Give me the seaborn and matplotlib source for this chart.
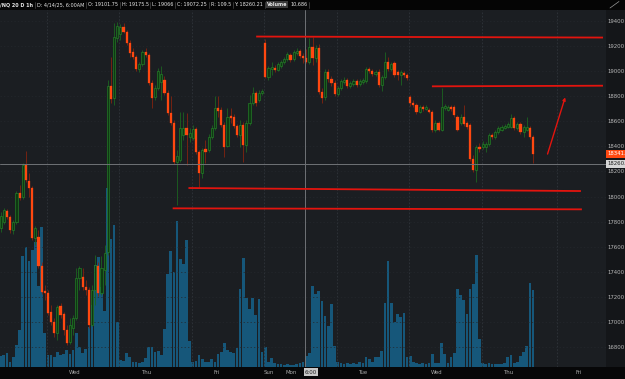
import matplotlib
matplotlib.use("Agg")
import matplotlib.pyplot as plt
import matplotlib.transforms as mtransforms
from matplotlib.patches import Rectangle
from matplotlib.lines import Line2D
import numpy as np
import pandas as pd
import seaborn as sns

# ---------------- data (hourly /NQ bars) ----------------
opens = [
    17749, 17797, 17885, 17837, 17733, 17797, 18028, 17996, 18252, 18124,
    18068, 17669, 17677, 17446, 17247, 17231, 17079, 16999, 16912, 17127,
    17063, 16936, 16840, 16952, 17031, 17350, 17358, 17279, 17255, 16976,
    17255, 17446, 17231, 17414, 17558, 18882, 18786, 19264, 19296, 19352,
    19312, 19225, 19153, 19113, 19017, 19057, 19153, 19129, 18906, 18794,
    18866, 18914, 18930, 18826, 18666, 18587, 18276, 18291, 18491, 18547,
    18475, 18467, 18539, 18355, 18188, 18379, 18371, 18475, 18547, 18706,
    18690, 18571, 18403, 18642, 18634, 18563, 18491, 18571, 18411, 18587,
    18746, 18826, 18770, 18826, 19225, 18953, 19017, 19025, 19009, 19041,
    19073, 19097, 19129, 19097, 19145, 19161, 19121, 19101.75, 19073, 19193,
    19105, 19185, 18834, 18794, 18993, 18937, 18906, 18818, 18866, 18914,
    18930, 18882, 18898, 18922, 18898, 18914, 18922, 19017, 19001, 18977,
    18993, 18890, 18953, 19073, 19017, 19065, 18993, 18969, 18985, 18969,
    18794, 18746, 18730, 18674, 18714, 18698, 18690, 18674, 18531, 18587,
    18531, 18706, 18690, 18714, 18714, 18634, 18587, 18634, 18587, 18571,
    18299, 18212, 18395, 18395, 18395, 18419, 18491, 18475, 18515, 18531,
    18547, 18555, 18555, 18626, 18547, 18579, 18515, 18531, 18547, 18475,
]
highs = [
    17877, 17909, 17901, 17853, 17813, 18044, 18092, 18268, 18363, 18188,
    18084, 17765, 17733, 17478, 17295, 17255, 17135, 17031, 17135, 17151,
    17079, 16976, 17031, 17055, 17430, 17446, 17430, 17334, 17279, 17295,
    17534, 17478, 17526, 17614, 18930, 19113, 19384, 19392, 19376, 19384,
    19328, 19248, 19185, 19129, 19073, 19169, 19185, 19145, 18930, 18890,
    19025, 19041, 18961, 18850, 18802, 18610, 18371, 18674, 18674, 18666,
    18547, 18571, 18555, 18371, 18387, 18451, 18499, 18571, 18802, 18802,
    18714, 18594, 18706, 18706, 18658, 18579, 18610, 18594, 18610, 18810,
    18874, 18842, 18850, 18858, 19256, 19041, 19073, 19049, 19073, 19089,
    19113, 19153, 19145, 19169, 19185, 19177, 19145, 19175.5, 19264, 19272,
    19209, 19217, 18866, 19017, 19017, 18961, 18930, 18882, 18937, 18953,
    18945, 18922, 18937, 18937, 18937, 18945, 19033, 19033, 19017, 19009,
    19017, 18969, 19153, 19113, 19073, 19081, 19009, 19009, 19001, 18985,
    18810, 18770, 18746, 18730, 18730, 18730, 18706, 18690, 18610, 18602,
    18866, 18738, 18730, 18730, 18730, 18650, 18658, 18730, 18602, 18587,
    18331, 18411, 18427, 18443, 18435, 18507, 18507, 18531, 18563, 18571,
    18579, 18594, 18658, 18642, 18594, 18594, 18571, 18634, 18563, 18491,
]
lows = [
    17717, 17781, 17821, 17709, 17701, 17781, 17972, 17980, 18116, 17996,
    17653, 17614, 17430, 17223, 17175, 17055, 16976, 16880, 16856, 17031,
    16896, 16816, 16824, 16896, 17015, 17255, 17255, 17215, 16952, 16968,
    17135, 17207, 17215, 17295, 17534, 18746, 18730, 19233, 19248, 19304,
    19209, 19113, 19097, 19001, 18993, 19041, 19113, 18890, 18706, 18770,
    18850, 18770, 18810, 18650, 18571, 18260, 17933, 18276, 18451, 18252,
    18435, 18451, 18339, 18076, 18148, 18268, 18355, 18459, 18531, 18634,
    18555, 18315, 18395, 18587, 18547, 18475, 18395, 18276, 18355, 18571,
    18730, 18722, 18754, 18810, 18945, 18930, 18969, 18993, 19001, 19025,
    19057, 19081, 19073, 19081, 19129, 19105, 19065, 19066, 19057, 19049,
    19073, 18818, 18746, 18770, 18914, 18882, 18802, 18802, 18850, 18898,
    18866, 18866, 18882, 18874, 18882, 18898, 18906, 18985, 18961, 18961,
    18874, 18842, 18937, 19001, 19001, 18953, 18930, 18890, 18953, 18930,
    18722, 18714, 18658, 18666, 18682, 18690, 18666, 18515, 18515, 18523,
    18523, 18690, 18682, 18682, 18634, 18523, 18571, 18563, 18539, 18284,
    18196, 18116, 18355, 18379, 18355, 18403, 18459, 18459, 18499, 18523,
    18539, 18547, 18547, 18531, 18531, 18499, 18475, 18523, 18459, 18268,
]
closes = [
    17845, 17893, 17837, 17733, 17797, 18028, 17988, 18252, 18132, 18068,
    17669, 17749, 17446, 17239, 17231, 17071, 16999, 16912, 17119, 17055,
    16936, 16832, 16976, 17031, 17350, 17430, 17279, 17255, 16976, 17255,
    17454, 17231, 17430, 17550, 18882, 18778, 19272, 19360, 19352, 19312,
    19225, 19145, 19113, 19017, 19057, 19153, 19129, 18906, 18786, 18866,
    19001, 18977, 18826, 18666, 18587, 18276, 18323, 18547, 18547, 18491,
    18507, 18539, 18355, 18188, 18371, 18355, 18475, 18547, 18706, 18682,
    18571, 18395, 18634, 18626, 18563, 18491, 18571, 18411, 18587, 18746,
    18826, 18746, 18826, 18842, 18953, 19025, 19033, 19009, 19057, 19073,
    19097, 19137, 19089, 19153, 19161, 19121, 19105, 19072.25, 19193, 19105,
    19185, 18834, 18786, 18993, 18937, 18906, 18818, 18866, 18922, 18930,
    18882, 18906, 18922, 18890, 18922, 18930, 19017, 19001, 18977, 18993,
    18890, 18953, 19073, 19017, 19057, 18969, 18969, 18993, 18969, 18945,
    18746, 18730, 18674, 18714, 18698, 18714, 18674, 18531, 18587, 18531,
    18714, 18722, 18714, 18698, 18650, 18531, 18634, 18579, 18555, 18299,
    18212, 18395, 18379, 18419, 18419, 18491, 18475, 18515, 18547, 18555,
    18563, 18579, 18626, 18547, 18579, 18515, 18555, 18555, 18475, 18341,
]
volumes = [
    11000, 12000, 14000, 5000, 10000, 22000, 37000, 111000, 120000, 106000,
    117000, 125000, 81000, 140000, 34000, 12000, 12000, 10000, 15000, 12000,
    13000, 17000, 13000, 17000, 34000, 20000, 14000, 18000, 40000, 62000,
    102000, 110000, 80000, 56000, 179000, 128000, 142000, 45000, 7000, 6000,
    14000, 10000, 5000, 5000, 4000, 5000, 9000, 20000, 20000, 15000,
    16000, 12000, 38000, 93000, 116000, 95000, 146000, 108000, 103000, 127000,
    26000, 5000, 6000, 12000, 8000, 5000, 5000, 8000, 5000, 13000,
    15000, 24000, 17000, 15000, 14000, 19000, 78000, 109000, 69000, 58000,
    69000, 52000, 68000, 15000, 20000, 5000, 9000, 4000, 3000, 3000,
    2000, 3000, 2000, 2000, 3000, 4000, 5000, 10686, 14000, 81000,
    73000, 76000, 66000, 51000, 41000, 63000, 21000, 5000, 4000, 3000,
    4000, 3000, 4000, 3000, 5000, 4000, 10000, 8000, 5000, 10000,
    10000, 16000, 64000, 106000, 64000, 45000, 53000, 50000, 54000, 10000,
    11000, 5000, 4000, 3000, 4000, 3000, 4000, 13000, 4000, 4000,
    24000, 13000, 4000, 10000, 14000, 78000, 72000, 67000, 53000, 78000,
    83000, 112000, 28000, 4000, 3000, 4000, 3000, 3000, 3000, 3000,
    4000, 10000, 12000, 4000, 5000, 11000, 15000, 21000, 84000, 77000,
]

day_labels = ["Wed", "Thu", "Fri", "Sun", "Mon", "Tue", "Wed", "Thu", "Fri"]
day_start_bars = [22, 45, 68, 84, 91, 114, 137, 160, 183]
price_ticks = list(range(16800, 19401, 200))

crosshair_bar = 97
crosshair_label = "6:00"
crosshair_price = 18260.21
last_price = 18341

header_fields = ["/NQ 20 D 1h", "D: 4/14/25, 6:00AM", "O: 19101.75", "H: 19175.5",
                 "L: 19066", "C: 19072.25", "R: 109.5", "Y: 18260.21", "Volume", "10,686"]

# hand-drawn trend lines: ((bar, price), (bar, price))
trend_lines = [
    ((81.1, 19276), (191.2, 19268)),
    ((136.9, 18879), (191.2, 18884)),
    ((59.6, 18068), (184.2, 18044)),
    ((54.6, 17906), (184.5, 17898)),
]
trend_arrow = ((173.6, 18339), (179.2, 18791))

# ---------------- layout ----------------
W, H = 625, 379
PL, PR, PT, PB = 0.0, 606.0, 9.5, 367.0          # plot box in pixels
XMIN, XMAX = -0.22, 192.16                        # bar index range shown
YMIN, YMAX = 16640.7, 19491.7                     # price range shown
VOL_TOP = 357500

BG = '#1b1e22'
STRIP = '#141619'
TXT = '#b9b9b9'
FS = 3.9
HFS = 3.55

sns.set_theme(style="dark")
plt.rcParams['font.family'] = ['DejaVu Sans']

fig = plt.figure(figsize=(W / 100, H / 100), dpi=100)
fig.patch.set_facecolor('#070708')
rect = [PL / W, 1 - PB / H, (PR - PL) / W, (PB - PT) / H]

# right price-axis strip
fig.add_artist(Rectangle((PR / W, 1 - PB / H), (W - PR) / W, (PB - PT) / H,
                         transform=fig.transFigure, facecolor=STRIP, edgecolor='none', zorder=0))

bars = np.arange(len(opens))
o = np.array(opens, float); h = np.array(highs, float)
l = np.array(lows, float); c = np.array(closes, float)
h = np.maximum(h, np.maximum(o, c)); l = np.minimum(l, np.minimum(o, c))

# ---- volume axes (behind) ----
axv = fig.add_axes(rect)
axv.set_facecolor(BG)
vdf = pd.DataFrame({"bar": bars, "volume": volumes})
sns.barplot(data=vdf, x="bar", y="volume", native_scale=True, width=0.86,
            color='#16577a', saturation=1, linewidth=0, errorbar=None, ax=axv)
axv.set_xlim(XMIN, XMAX)
axv.set_ylim(0, VOL_TOP)
axv.set_xticks([]); axv.set_yticks([])
axv.set_xlabel(''); axv.set_ylabel('')
for s in axv.spines.values():
    s.set_visible(False)

# ---- price axes ----
ax = fig.add_axes(rect)
ax.set_facecolor('none')
ax.set_xlim(XMIN, XMAX)
ax.set_ylim(YMIN, YMAX)
for s in ax.spines.values():
    s.set_visible(False)

# grid
grid_bars = [14.6, 37.65, 60.6, 83.7, 106.7, 129.7, 152.7, 176.7]
for gx in grid_bars:
    ax.axvline(gx, color='#30343a', lw=0.6, ls=(0, (2, 2)), zorder=0.5)
for p in price_ticks:
    ax.axhline(p, color='#24282d', lw=0.5, ls=(0, (2, 3)), zorder=0.5)

up = c >= o
body_lo = np.minimum(o, c)
body_h = np.maximum(np.abs(c - o), 6)
ax.vlines(bars[up], l[up], h[up], color='#1c6420', lw=0.6, zorder=2)
ax.vlines(bars[~up], l[~up], h[~up], color='#84230f', lw=0.6, zorder=2)
ax.bar(bars[up], body_h[up], bottom=body_lo[up], width=0.68, color='#0e3912',
       edgecolor='#268a2a', linewidth=0.42, zorder=3)
ax.bar(bars[~up], body_h[~up], bottom=body_lo[~up], width=0.68, color='#ff4810',
       edgecolor='#ff4810', linewidth=0.2, zorder=3)

# crosshair
ax.axvline(crosshair_bar - 0.3, color='#6f7276', lw=0.7, zorder=4)
ax.axhline(crosshair_price, color='#6f7276', lw=0.7, zorder=4)

# trend lines
for (x0, y0), (x1, y1) in trend_lines:
    ax.plot([x0, x1], [y0, y1], color='#e3140e', lw=1.3, solid_capstyle='butt', zorder=5)
ax.annotate('', xy=trend_arrow[1], xytext=trend_arrow[0],
            arrowprops=dict(arrowstyle='-|>', color='#e3140e', lw=1.0,
                            mutation_scale=4, shrinkA=0, shrinkB=0), zorder=5)

# right price labels
ax.yaxis.tick_right()
ax.set_yticks(price_ticks)
ax.set_yticklabels([str(p) for p in price_ticks])
ax.tick_params(axis='y', length=0, pad=1.1, labelsize=FS, labelcolor=TXT)
ax.set_xticks([])

ytr = mtransforms.blended_transform_factory(ax.transAxes, ax.transData)
ax.text(1.0 + 1.0 / (PR - PL), last_price, f"{last_price}.", transform=ytr, fontsize=FS,
        color='white', ha='left', va='center', zorder=6, clip_on=False,
        bbox=dict(boxstyle='square,pad=0.25', facecolor='#ff4810', edgecolor='none'))
ax.text(1.0 + 1.0 / (PR - PL), crosshair_price, f"{int(crosshair_price)}.", transform=ytr,
        fontsize=FS, color='#222222', ha='left', va='center', zorder=6, clip_on=False,
        bbox=dict(boxstyle='square,pad=0.25', facecolor='#d6d6d6', edgecolor='none'))

# day labels along the bottom
xtr = mtransforms.blended_transform_factory(ax.transData, ax.transAxes)
ylab = -(372.0 - PB) / (PB - PT)
for lab, b in zip(day_labels, day_start_bars):
    ax.text(b - 0.5, ylab, lab, transform=xtr, fontsize=FS, color='#a8a8a8',
            ha='left', va='center', clip_on=False)
ax.text(crosshair_bar - 0.5, ylab, crosshair_label, transform=xtr, fontsize=FS,
        color='#1e1e1e', ha='left', va='center', clip_on=False,
        bbox=dict(boxstyle='square,pad=0.2', facecolor='#c8c8c8', edgecolor='none'))

# header band
fig.add_artist(Rectangle((0, 1 - PT / H), 1, PT / H, transform=fig.transFigure,
                         facecolor='#050505', edgecolor='none', zorder=1))
renderer = fig.canvas.get_renderer()
xpix = 0.5
yfig = 1 - 4.6 / H
for k, s in enumerate(header_fields):
    bold = k in (0, 8)
    kw = dict(fontsize=HFS, color='#e6e6e6', ha='left', va='center', zorder=3,
              fontweight='bold' if bold else 'normal')
    if k == 8:
        kw['bbox'] = dict(boxstyle='square,pad=0.15', facecolor='#3a3a3a', edgecolor='none')
    t = fig.text(xpix / W, yfig, s, **kw)
    ext = t.get_window_extent(renderer)
    right = ext.x1
    if k != 8:
        sx = right + 1.8
        fig.add_artist(Line2D([sx / W, sx / W], [1 - 1.5 / H, 1 - 7.5 / H],
                              transform=fig.transFigure, color='#4a4a4a', lw=0.5, zorder=3))
        xpix = right + 3.6
    else:
        xpix = right + 2.6

# small expand icon at top right
fig.add_artist(Line2D([610 / W, 619 / W], [1 - 8 / H, 1 - 1.5 / H], transform=fig.transFigure,
                      color='#9a9a9a', lw=0.5, zorder=3))

fig.savefig("out.png", dpi=100, facecolor=fig.get_facecolor())
